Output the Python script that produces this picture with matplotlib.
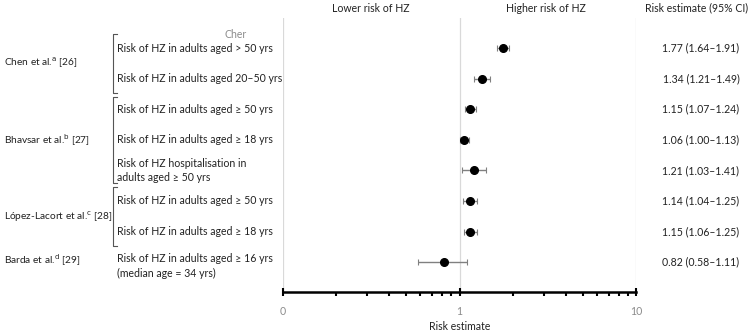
"""
Forest plot -- risk of HZ estimates by study
"""

import matplotlib
matplotlib.use("Agg")
import matplotlib.pyplot as plt
from matplotlib.ticker import FixedLocator, NullFormatter
import numpy as np

plt.rcParams["font.family"] = ["Lato", "DejaVu Sans"]

# ── Data ──────────────────────────────────────────────────────────────────────
studies = ["Chen et al.$^{\\mathrm{a}}$ [26]", "Bhavsar et al.$^{\\mathrm{b}}$ [27]",
           "López-Lacort et al.$^{\\mathrm{c}}$ [28]", "Barda et al.$^{\\mathrm{d}}$ [29]"]
study_rows = [(0, 1), (2, 4), (5, 6), (7, 7)]
outcomes = [
    "Risk of HZ in adults aged > 50 yrs",
    "Risk of HZ in adults aged 20–50 yrs",
    "Risk of HZ in adults aged ≥ 50 yrs",
    "Risk of HZ in adults aged ≥ 18 yrs",
    "Risk of HZ hospitalisation in\nadults aged ≥ 50 yrs",
    "Risk of HZ in adults aged ≥ 50 yrs",
    "Risk of HZ in adults aged ≥ 18 yrs",
    "Risk of HZ in adults aged ≥ 16 yrs\n(median age = 34 yrs)",
]
estimate = [1.77, 1.34, 1.15, 1.06, 1.21, 1.14, 1.15, 0.82]
lower    = [1.64, 1.21, 1.07, 1.00, 1.03, 1.04, 1.06, 0.58]
upper    = [1.91, 1.49, 1.24, 1.13, 1.41, 1.25, 1.25, 1.11]
xticks_major = [0.1, 1, 10]
xtick_labels = ["0", "1", "10"]

# ── Canvas ────────────────────────────────────────────────────────────────────
W, H = 755, 336
fig = plt.figure(figsize=(W / 100, H / 100), dpi=100, facecolor="white")

def fx(x):
    return x / W

def fy(y):
    return 1 - y / H

C_TEXT = "#222222"
C_GRAY = "#8c8c8c"
C_GRID = "#d9d9d9"
FS = 7.6

# plot area in pixels
AX_L, AX_R, AX_T, AX_B = 283, 636, 18, 292
ax = fig.add_axes([fx(AX_L), fy(AX_B), fx(AX_R - AX_L), (AX_B - AX_T) / H])
ax.set_xscale("log")
ax.set_xlim(0.1, 10)
ROW0, DROW = 48, 30.6
ax.set_ylim((AX_B - ROW0) / DROW, (AX_T - ROW0) / DROW)

for s in ["top", "right", "left"]:
    ax.spines[s].set_visible(False)
ax.spines["bottom"].set_linewidth(1.8)
ax.spines["bottom"].set_color("black")
ax.set_yticks([])

ax.xaxis.set_major_locator(FixedLocator(xticks_major))
ax.set_xticklabels(xtick_labels)
minor = [m * d for d in (0.1, 1) for m in range(2, 10)]
ax.xaxis.set_minor_locator(FixedLocator(minor))
ax.xaxis.set_minor_formatter(NullFormatter())
ax.tick_params(axis="x", which="major", direction="inout", length=6, width=1.5,
               colors="black", labelcolor=C_GRAY, labelsize=FS, pad=7)
ax.tick_params(axis="x", which="minor", direction="out", length=3, width=1.5,
               colors="black")

for xv in xticks_major:
    ax.axvline(xv, color=C_GRID, lw=0.9, zorder=0)

rows = np.arange(len(estimate))
est = np.array(estimate)
xerr = [est - np.array(lower), np.array(upper) - est]
ax.errorbar(est, rows, xerr=xerr, fmt="o", color="black", markersize=5.5,
            ecolor="#808080", elinewidth=1.0, capsize=2, capthick=0.8, zorder=3)

fig.text(fx(460), fy(326), "Risk estimate", ha="center", va="center",
         fontsize=FS, color=C_TEXT)

# ── Header ────────────────────────────────────────────────────────────────────
fig.text(fx(371), fy(8), "Lower risk of HZ", ha="center", va="center",
         fontsize=FS, color=C_TEXT)
fig.text(fx(546), fy(8), "Higher risk of HZ", ha="center", va="center",
         fontsize=FS, color=C_TEXT)
fig.text(fx(697), fy(8), "Risk estimate (95% CI)", ha="center", va="center",
         fontsize=FS, color=C_TEXT)
fig.text(fx(236), fy(34), "Cher", ha="center", va="center",
         fontsize=FS, color=C_GRAY)

# ── Row labels, values ────────────────────────────────────────────────────────
for i, lab in enumerate(outcomes):
    y = ROW0 + DROW * i
    if i == len(outcomes) - 1:
        y += 4
    fig.text(fx(117), fy(y), lab, ha="left", va="center", fontsize=FS,
             color=C_TEXT, linespacing=1.4)
    fig.text(fx(701), fy(ROW0 + DROW * i),
             f"{estimate[i]:.2f} ({lower[i]:.2f}–{upper[i]:.2f})",
             ha="center", va="center", fontsize=FS, color=C_TEXT)

# ── Study names + brackets ────────────────────────────────────────────────────
for name, (r0, r1) in zip(studies, study_rows):
    yc = ROW0 + DROW * (r0 + r1) / 2
    if r0 == r1:
        yc = ROW0 + DROW * r0 - 2
    fig.text(fx(4), fy(yc), name, ha="left", va="center", fontsize=7.3,
             color=C_TEXT)
    if r1 > r0:
        yt = ROW0 + DROW * r0 - 14
        yb = ROW0 + DROW * r1 + 14
        if r0 == 2:
            yt += 2
            yb -= 1
        fig.add_artist(plt.Line2D([fx(117), fx(113), fx(113), fx(117)],
                                  [fy(yt), fy(yt), fy(yb), fy(yb)],
                                  color="#555555", lw=0.8))

fig.savefig("out.png", dpi=100, facecolor="white")
